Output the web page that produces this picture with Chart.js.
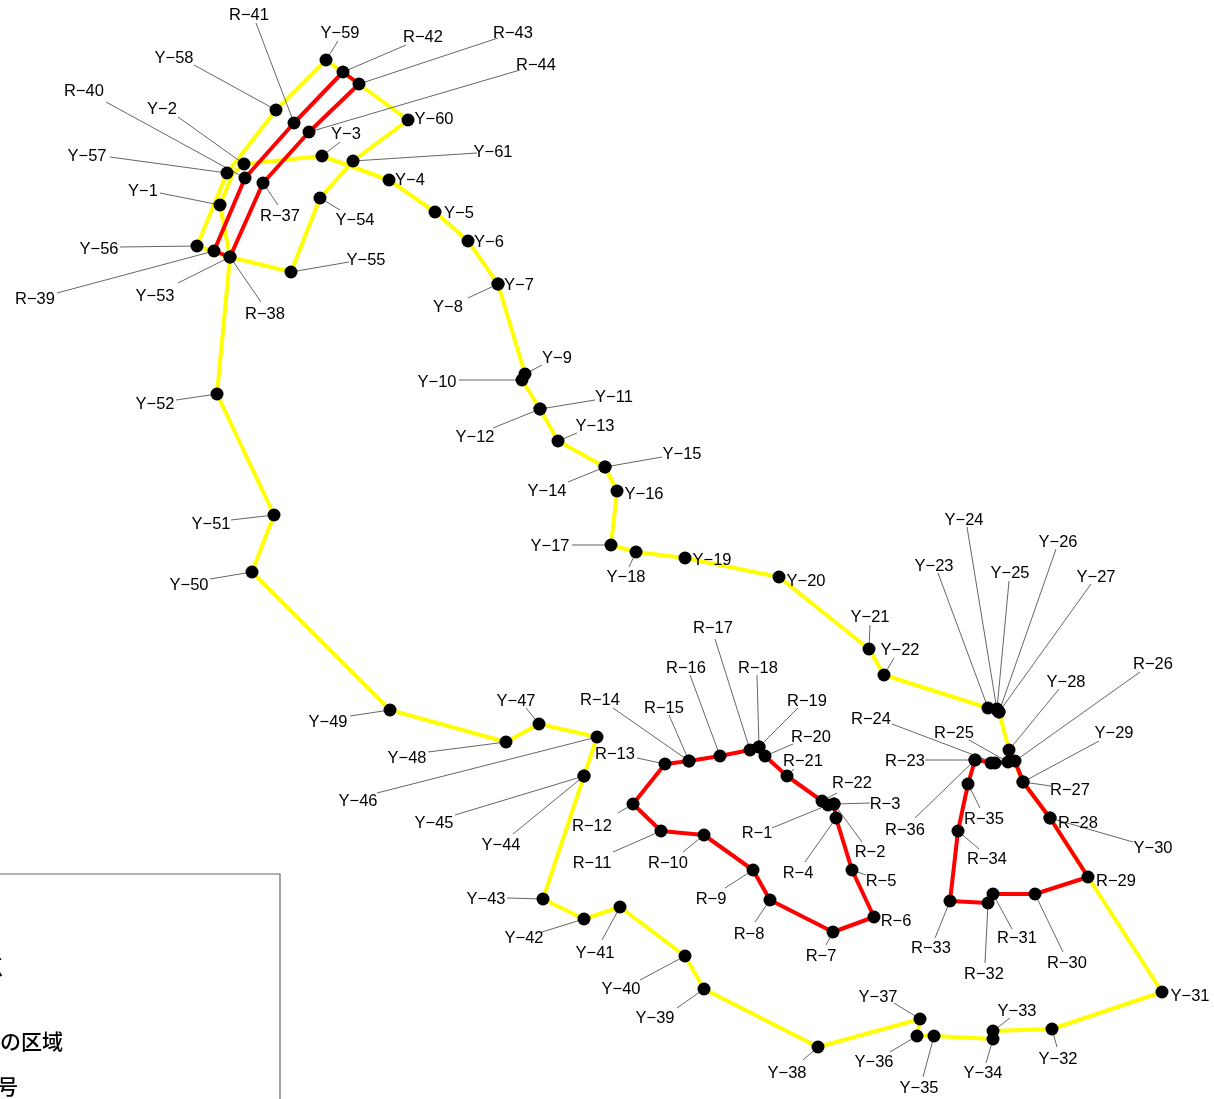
<!DOCTYPE html>
<html>
<head>
<meta charset="utf-8">
<title>Route map</title>
<script src="https://cdn.jsdelivr.net/npm/chart.js@4"></script>
<style>
  body { margin: 0; background: #fff; }
  #wrap { width: 1214px; height: 1099px; overflow: hidden; }
</style>
</head>
<body>
<div id="wrap"><canvas id="map" width="1214" height="1099"></canvas></div>
<script>
// Yellow stations Y-1 .. Y-61
const yellowX = [220, 244, 322, 389, 435, 468, 498, 498, 525, 522, 540, 540, 558, 605, 605, 617, 611, 636, 685, 779, 869, 884, 988, 997, 997, 999, 999, 1009, 1023, 1050, 1162, 1052, 993, 993, 934, 917, 920, 818, 704, 685, 620, 584, 543, 584, 584, 597, 539, 506, 390, 252, 274, 217, 230, 320, 291, 197, 227, 276, 326, 408, 353];
const yellowY = [205, 164, 156, 180, 212, 241, 284, 284, 374, 380, 409, 409, 441, 467, 467, 491, 545, 552, 558, 577, 649, 675, 708, 710, 709, 712, 712, 750, 782, 818, 992, 1029, 1031, 1039, 1036, 1036, 1019, 1047, 989, 956, 907, 919, 899, 776, 776, 737, 724, 742, 710, 572, 515, 394, 257, 198, 272, 246, 173, 110, 60, 120, 161];

// Red stations R-1 .. R-44
const redX = [828, 834, 834, 836, 852, 874, 833, 770, 753, 704, 661, 633, 665, 689, 689, 720, 750, 759, 759, 765, 787, 822, 975, 995, 1008, 1015, 1023, 1050, 1088, 1035, 993, 988, 950, 958, 968, 975, 263, 230, 214, 245, 294, 343, 359, 309];
const redY = [805, 804, 804, 818, 870, 917, 932, 900, 870, 835, 831, 804, 764, 761, 761, 756, 750, 747, 747, 756, 776, 801, 760, 763, 762, 761, 782, 818, 877, 894, 894, 903, 901, 831, 784, 760, 183, 257, 251, 178, 123, 72, 84, 132];

// Order the yellow line runs through the stations (station numbers)
const yellowRoute = [2, 3, 4, 5, 6, 7, 8, 9, 10, 11, 12, 13, 14, 15, 16, 17, 18, 19, 20, 21, 22, 23, 24, 25, 26, 27, 28, 29, 30, 31, 32, 33, 34, 35, 36, 37, 38, 39, 40, 41, 42, 43, 44, 45, 46, 47, 48, 49, 50, 51, 52, 53, 55, 54, 61, 60, 59, 58, 57, 56, 53, 1];
// The short bend between Y-1 and Y-2 has a vertex with no station on it
const yellowBendX = [220, 233, 244];
const yellowBendY = [205, 173, 164];
// Red rings, first and last station number
const redRings = [[1, 22], [23, 36], [37, 44]];
// One dot in the R-24 cluster has no label of its own
const extraDotX = [991];
const extraDotY = [763];

// Label centres and the far end of each leader line (null = no leader)
const yellowLabelAt = [[143, 191], [162, 109], [346, 134], [410, 180], [459, 213], [489, 242], [519, 285], [448, 307], [557, 358], [437, 382], [614, 397], [475, 437], [595, 426], [547, 491], [682, 454], [644, 494], [550, 546], [626, 577], [712, 560], [806, 581], [870, 617], [900, 650], [934, 566], [964, 520], [1010, 573], [1058, 542], [1096, 577], [1066, 682], [1114, 733], [1153, 848], [1190, 996], [1058, 1059], [1017, 1011], [983, 1073], [919, 1088], [874, 1062], [878, 997], [787, 1073], [655, 1018], [621, 989], [595, 953], [524, 938], [486, 899], [501, 845], [434, 823], [358, 801], [516, 701], [407, 758], [328, 722], [189, 585], [211, 524], [155, 404], [155, 296], [355, 220], [366, 260], [99, 249], [87, 156], [174, 58], [340, 33], [434, 119], [493, 152]];
const yellowLeaderEnd = [[160, 193], [178, 117], [340, 142], null, null, null, null, [468, 298], [542, 365], [459, 380], [595, 400], [493, 428], [577, 433], [568, 482], [662, 457], null, [572, 545], [629, 567], null, null, [870, 625], [894, 658], [938, 573], [967, 527], [1009, 581], [1056, 549], [1091, 584], [1059, 689], [1099, 741], [1133, 842], null, [1057, 1047], [1010, 1018], [986, 1063], [923, 1077], [890, 1052], [894, 1003], [803, 1060], [677, 1008], [640, 980], [602, 940], [542, 932], [507, 898], [513, 834], [455, 815], [377, 793], [526, 708], [428, 752], [350, 716], [210, 579], [231, 520], [176, 400], [178, 283], [340, 210], [349, 262], [120, 247], [110, 157], [194, 65], [338, 41], null, [477, 153]];
const redLabelAt = [[757, 833], [870, 852], [885, 804], [798, 873], [881, 881], [896, 921], [821, 956], [749, 934], [711, 899], [668, 863], [592, 863], [592, 826], [615, 754], [600, 700], [664, 708], [686, 668], [713, 628], [758, 668], [807, 701], [811, 737], [803, 761], [852, 783], [905, 761], [871, 719], [954, 733], [1153, 664], [1070, 790], [1078, 823], [1116, 881], [1067, 963], [1017, 938], [984, 974], [931, 948], [987, 859], [984, 819], [905, 830], [280, 216], [265, 314], [35, 299], [84, 91], [249, 15], [423, 37], [513, 33], [536, 65]];
const redLeaderEnd = [[772, 828], [862, 842], [870, 803], [805, 862], [866, 875], null, [826, 945], [755, 922], [725, 888], [683, 852], [613, 852], [618, 813], [637, 758], [613, 708], [669, 715], [690, 675], [715, 639], [757, 675], [798, 708], [793, 744], [794, 769], [837, 793], [925, 760], [892, 724], [969, 740], [1140, 672], [1051, 786], null, null, [1063, 952], [1012, 929], [985, 963], [935, 938], [979, 849], [980, 808], [915, 818], [278, 205], [261, 302], [57, 293], [106, 102], [256, 23], [406, 45], [498, 38], [520, 70]];

// Visible pieces of the legend, which runs off the left edge of the page
const legendTexts = ["点", "の区域", "号"];
const legendLeft = [-18, 0, -3];
const legendMiddle = [966, 1041, 1086];
const legendBoxTop = 874;
const legendBoxRight = 280;

const yellowNames = yellowX.map((_, i) => "Y\u2212" + (i + 1));
const redNames = redX.map((_, i) => "R\u2212" + (i + 1));

function toPoints(xs, ys) {
  return xs.map((x, i) => ({ x: x, y: ys[i] }));
}

// Ring of red stations as one closed line, with a gap after each ring
function redRingPoints() {
  const points = [];
  redRings.forEach(([first, last]) => {
    for (let n = first; n <= last; n++) {
      points.push({ x: redX[n - 1], y: redY[n - 1] });
    }
    points.push({ x: redX[first - 1], y: redY[first - 1] });
    points.push({ x: NaN, y: NaN });
  });
  return points;
}

// All leader lines in one dataset, split by gaps
function leaderPoints(xs, ys, ends) {
  const points = [];
  ends.forEach((end, i) => {
    if (!end) return;
    points.push({ x: xs[i], y: ys[i] });
    points.push({ x: end[0], y: end[1] });
    points.push({ x: NaN, y: NaN });
  });
  return points;
}

function lineDataset(data, color, width, order) {
  return {
    data: data,
    showLine: true,
    borderColor: color,
    borderWidth: width,
    borderJoinStyle: "round",
    pointRadius: 0,
    tension: 0,
    spanGaps: false,
    order: order,
  };
}

function dotDataset(data) {
  return {
    data: data,
    showLine: false,
    pointRadius: 6.5,
    pointBackgroundColor: "#000",
    pointBorderWidth: 0,
    order: 0,
  };
}

// Plugin for station labels and the legend box
const labelPlugin = {
  id: "stationLabels",
  afterDatasetsDraw(chart) {
    const ctx = chart.ctx;
    const xScale = chart.scales.x;
    const yScale = chart.scales.y;
    ctx.save();
    ctx.fillStyle = "#000";
    ctx.font = '16.5px "Liberation Sans"';
    ctx.textAlign = "center";
    ctx.textBaseline = "middle";
    yellowNames.forEach((name, i) => {
      ctx.fillText(name, xScale.getPixelForValue(yellowLabelAt[i][0]), yScale.getPixelForValue(yellowLabelAt[i][1]));
    });
    redNames.forEach((name, i) => {
      ctx.fillText(name, xScale.getPixelForValue(redLabelAt[i][0]), yScale.getPixelForValue(redLabelAt[i][1]));
    });

    ctx.strokeStyle = "#666";
    ctx.lineWidth = 1.2;
    ctx.beginPath();
    ctx.moveTo(0, legendBoxTop);
    ctx.lineTo(legendBoxRight, legendBoxTop);
    ctx.lineTo(legendBoxRight, chart.height);
    ctx.stroke();

    ctx.font = '500 21px "Noto Sans CJK JP"';
    ctx.textAlign = "left";
    legendTexts.forEach((text, i) => {
      ctx.fillText(text, legendLeft[i], legendMiddle[i]);
    });
    ctx.restore();
  },
};

new Chart(document.getElementById("map").getContext("2d"), {
  type: "scatter",
  data: {
    datasets: [
      lineDataset(toPoints(yellowRoute.map((n) => yellowX[n - 1]), yellowRoute.map((n) => yellowY[n - 1])), "#ffff00", 4, 4),
      lineDataset(toPoints(yellowBendX, yellowBendY), "#ffff00", 4, 4),
      lineDataset(redRingPoints(), "#ff0000", 4, 3),
      lineDataset(leaderPoints(yellowX, yellowY, yellowLeaderEnd), "#666", 1, 2),
      lineDataset(leaderPoints(redX, redY, redLeaderEnd), "#666", 1, 2),
      dotDataset(toPoints(yellowX, yellowY)),
      dotDataset(toPoints(redX, redY)),
      dotDataset(toPoints(extraDotX, extraDotY)),
    ],
  },
  options: {
    responsive: false,
    animation: false,
    layout: { padding: 0, autoPadding: false },
    plugins: { legend: { display: false }, tooltip: { enabled: false } },
    scales: {
      x: { type: "linear", display: false, min: 0, max: 1214 },
      y: { type: "linear", display: false, min: 0, max: 1099, reverse: true },
    },
  },
  plugins: [labelPlugin],
});
</script>
</body>
</html>
